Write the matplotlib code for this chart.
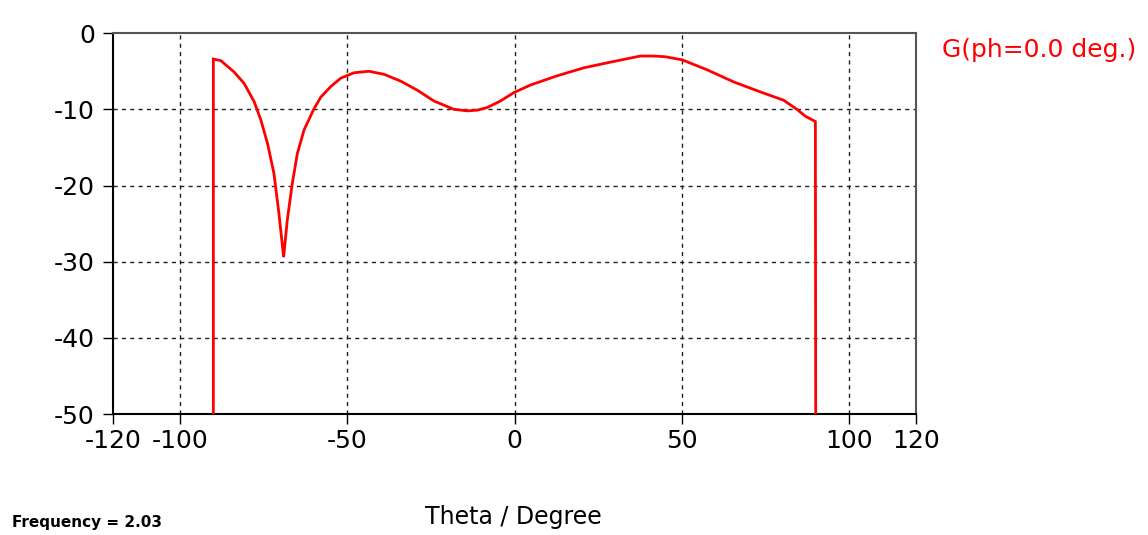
import matplotlib
matplotlib.use('Agg')
import matplotlib.pyplot as plt
import numpy as np

plt.rcParams['font.family'] = ['DejaVu Sans']
plt.rcParams['axes.unicode_minus'] = False

# gain pattern (theta in degrees, gain in dB)
theta = [-90.0, -90.0, -87.8, -83.8, -80.8, -77.8, -75.8, -73.8, -71.9, -70.4,
         -69.0, -67.9, -66.4, -64.9, -62.9, -59.9, -57.9, -54.9, -51.9, -48.0,
         -43.5, -39.0, -34.0, -29.0, -24.1, -18.1, -14.1, -11.1, -8.1, -4.2,
         -0.2, 4.8, 12.7, 20.7, 28.7, 37.6, 41.6, 45.1, 50.1, 57.5,
         65.5, 73.4, 80.4, 84.4, 86.9, 89.9, 90.0]
gain = [-50.0, -3.4, -3.6, -5.1, -6.6, -9.0, -11.4, -14.5, -18.4, -23.7,
        -29.4, -24.5, -19.7, -15.8, -12.7, -9.9, -8.4, -7.0, -5.9, -5.2,
        -5.0, -5.4, -6.3, -7.5, -8.9, -10.0, -10.2, -10.1, -9.75, -8.9,
        -7.8, -6.8, -5.6, -4.55, -3.8, -3.0, -3.0, -3.1, -3.5, -4.8,
        -6.4, -7.7, -8.8, -10.0, -10.9, -11.6, -50.0]

xticks = [-120, -100, -50, 0, 50, 100, 120]
yticks = [0, -10, -20, -30, -40, -50]
xgrid = [-100, -50, 0, 50, 100]
ygrid = [-10, -20, -30, -40]

fig = plt.figure(figsize=(11.48, 5.35), dpi=100)
ax = fig.add_axes([0.0984, 0.226, 0.6996, 0.712])

ax.plot(theta, gain, color='#ff0000', lw=2, solid_joinstyle='miter', zorder=3)

for g in xgrid:
    ax.axvline(g, color='#202020', lw=1, ls=(0, (3, 3)), zorder=1)
for g in ygrid:
    ax.axhline(g, color='#202020', lw=1, ls=(0, (3, 3)), zorder=1)

ax.set_xlim(-120, 120)
ax.set_ylim(-50, 0)
ax.set_xticks(xticks)
ax.set_yticks(yticks)
ax.set_xticklabels([str(t) for t in xticks])
ax.set_yticklabels([str(t) for t in yticks])
ax.tick_params(axis='both', direction='out', length=7, width=1, labelsize=18, pad=4)
ax.tick_params(axis='y', pad=6)

ax.spines['left'].set_color('black')
ax.spines['bottom'].set_color('black')
ax.spines['top'].set_color('#555555')
ax.spines['right'].set_color('#555555')
for s in ax.spines.values():
    s.set_linewidth(1.5)

fig.text(0.8206, 0.9065, 'G(ph=0.0 deg.)', color='#ff0000', fontsize=18,
         ha='left', va='center')
fig.text(0.447, 0.034, 'Theta / Degree', fontsize=17, ha='center', va='center')
fig.text(0.0105, 0.024, 'Frequency = 2.03', fontsize=11, fontweight='bold',
         ha='left', va='center')

fig.savefig('out.png', dpi=100, facecolor='white')
